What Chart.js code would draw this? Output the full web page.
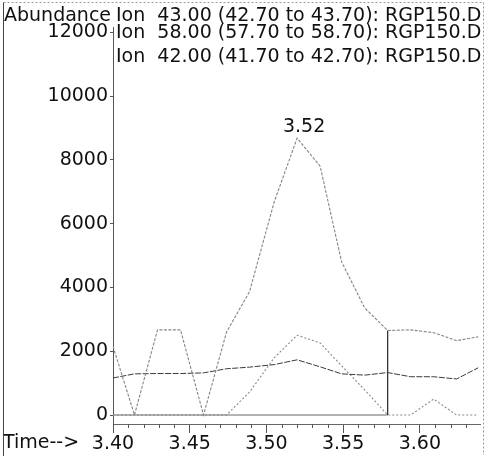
<!DOCTYPE html>
<html>
<head>
<meta charset="utf-8">
<script src="https://cdn.jsdelivr.net/npm/chart.js@4/dist/chart.umd.min.js"></script>
<style>
  html, body { margin: 0; padding: 0; background: #fff; }
  canvas { display: block; }
</style>
</head>
<body>
<canvas id="chrom" width="490" height="456"></canvas>
<script>
// Retention times of the scans (min)
const TIMES = [3.400, 3.414, 3.429, 3.444, 3.459, 3.474, 3.489, 3.505, 3.520,
               3.535, 3.549, 3.564, 3.579, 3.594, 3.609, 3.624, 3.638];

// Extracted ion abundances per scan
const ION43 = [2150, 0, 2670, 2670, 0, 2600, 3870, 6670, 8680,
               7800, 4800, 3360, 2650, 2670, 2580, 2330, 2450];
const ION58 = [1160, 1290, 1300, 1300, 1320, 1450, 1500, 1580, 1730,
               1510, 1290, 1250, 1330, 1200, 1200, 1130, 1480];
const ION42 = [0, 0, 0, 0, 0, 0, 720, 1790, 2500,
               2260, 1540, 790, 0, 0, 500, 0, 0];

// Zero trace that steps up where the window changes
const STEP_TIMES = [3.400, 3.579, 3.579];
const STEP_VALUES = [0, 0, 2650];

const ION_LABELS = [
  'Ion  43.00 (42.70 to 43.70): RGP150.D',
  'Ion  58.00 (57.70 to 58.70): RGP150.D',
  'Ion  42.00 (41.70 to 42.70): RGP150.D'
];
const X_TICKS = [3.40, 3.45, 3.50, 3.55, 3.60];
const X_MINOR = [3.41, 3.42, 3.43, 3.44, 3.46, 3.47, 3.48, 3.49, 3.51, 3.52,
                 3.53, 3.54, 3.56, 3.57, 3.58, 3.59, 3.61, 3.62, 3.63];
const Y_TICKS = [0, 2000, 4000, 6000, 8000, 10000, 12000];

const FONT_FAMILY = '"DejaVu Sans", sans-serif';
const FONT_SIZE = 19;
const INK = '#111';

const toPoints = (xs, ys) => xs.map((x, i) => ({ x: x, y: ys[i] }));

// Header, axis caption, peak label, minor ticks and page frame
const decorations = {
  id: 'decorations',
  afterDatasetsDraw(chart) {
    const ctx = chart.ctx;
    const xs = chart.scales.x, ys = chart.scales.y;
    ctx.save();
    // apex label of the ion 43 trace
    let best = 0;
    ION43.forEach((v, i) => { if (v > ION43[best]) best = i; });
    const px = xs.getPixelForValue(TIMES[best]);
    const py = ys.getPixelForValue(ION43[best]);
    ctx.font = FONT_SIZE + 'px ' + FONT_FAMILY;
    ctx.fillStyle = INK;
    ctx.textAlign = 'center';
    ctx.textBaseline = 'alphabetic';
    ctx.fillText(TIMES[best].toFixed(2), px + 7, py - 6);
    ctx.restore();
  },
  afterDraw(chart) {
    const ctx = chart.ctx;
    const xs = chart.scales.x;
    const area = chart.chartArea;
    ctx.save();
    // minor ticks every 0.01 min
    ctx.strokeStyle = '#555';
    ctx.lineWidth = 1;
    X_MINOR.forEach(v => {
      const x = Math.round(xs.getPixelForValue(v)) + 0.5;
      ctx.beginPath();
      ctx.moveTo(x, area.bottom);
      ctx.lineTo(x, area.bottom + 4);
      ctx.stroke();
    });
    // header lines
    ctx.font = FONT_SIZE + 'px ' + FONT_FAMILY;
    ctx.fillStyle = INK;
    ctx.textAlign = 'left';
    ctx.textBaseline = 'alphabetic';
    ctx.fillText('Abundance', 4, 21);
    const rows = [21, 38, 62];
    ION_LABELS.forEach((t, i) => ctx.fillText(t, 116, rows[i]));
    ctx.fillText('Time-->', 3, 448);
    // page frame
    ctx.strokeStyle = '#999';
    ctx.setLineDash([2, 2]);
    ctx.beginPath();
    ctx.moveTo(3.5, 2.5); ctx.lineTo(483.5, 2.5); ctx.lineTo(483.5, 455);
    ctx.stroke();
    ctx.setLineDash([]);
    ctx.strokeStyle = '#444';
    ctx.beginPath();
    ctx.moveTo(3.5, 2.5); ctx.lineTo(3.5, 456);
    ctx.stroke();
    ctx.restore();
  }
};

new Chart(document.getElementById('chrom'), {
  type: 'line',
  data: {
    datasets: [
      {
        label: 'Ion 43.00',
        data: toPoints(TIMES, ION43),
        borderColor: '#858585',
        borderWidth: 1.1,
        borderDash: [3, 1.5]
      },
      {
        label: 'Ion 58.00',
        data: toPoints(TIMES, ION58),
        borderColor: '#3a3a3a',
        borderWidth: 1,
        borderDash: [6, 1.5]
      },
      {
        label: 'Ion 42.00',
        data: toPoints(TIMES, ION42),
        borderColor: '#8a8a8a',
        borderWidth: 1.1,
        borderDash: [2, 2]
      },
      {
        label: 'zero trace',
        data: toPoints(STEP_TIMES, STEP_VALUES),
        borderColor: '#9a9a9a',
        borderWidth: 1.6,
        segment: {
          borderColor: c => (c.p0.parsed.x === c.p1.parsed.x ? '#333' : undefined),
          borderWidth: c => (c.p0.parsed.x === c.p1.parsed.x ? 1.3 : undefined)
        }
      }
    ]
  },
  options: {
    responsive: false,
    animation: false,
    devicePixelRatio: 1,
    events: [],
    layout: { padding: { left: 0, right: 10, top: 27, bottom: 0 } },
    elements: {
      point: { radius: 0 },
      line: { tension: 0, fill: false }
    },
    plugins: {
      legend: { display: false },
      tooltip: { enabled: false }
    },
    scales: {
      x: {
        type: 'linear',
        min: 3.40,
        max: 3.6392,
        afterFit: s => { s.height = 32; },
        afterBuildTicks: s => { s.ticks = X_TICKS.map(v => ({ value: v })); },
        border: { display: true, color: '#666', dash: [3, 2] },
        grid: { drawOnChartArea: false, drawTicks: true, tickLength: 9, color: '#555' },
        ticks: {
          padding: 0,
          maxRotation: 0,
          autoSkip: false,
          color: INK,
          font: { family: FONT_FAMILY, size: FONT_SIZE },
          callback: v => Number(v).toFixed(2)
        }
      },
      y: {
        type: 'linear',
        min: -282,
        max: 12163,
        afterFit: s => { s.width = 113; },
        afterBuildTicks: s => { s.ticks = Y_TICKS.map(v => ({ value: v })); },
        border: { display: true, color: '#555', dash: [4, 1] },
        grid: { drawOnChartArea: false, drawTicks: true, tickLength: 3, color: '#555' },
        ticks: {
          padding: 2,
          color: INK,
          font: { family: FONT_FAMILY, size: FONT_SIZE },
          callback: v => String(v)
        }
      }
    }
  },
  plugins: [decorations]
});
</script>
</body>
</html>
